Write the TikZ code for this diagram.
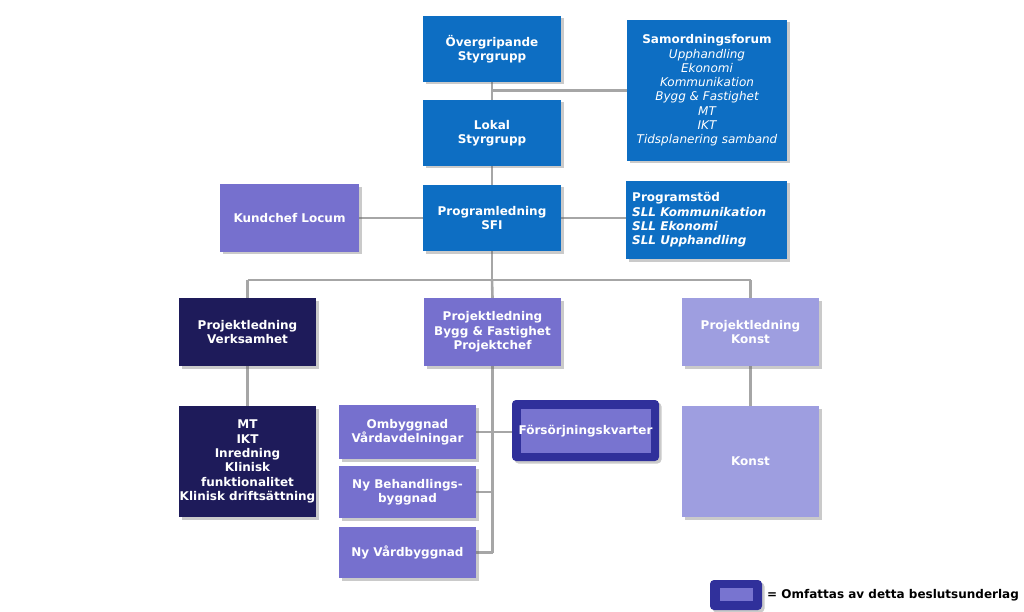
\documentclass[tikz,border=0pt]{standalone}
\usepackage{fontspec}
\setmainfont{DejaVu Sans}
\usetikzlibrary{shadows}
\pgfdeclarelayer{bg}
\pgfsetlayers{bg,main}
\definecolor{cblue}{RGB}{13,110,195}
\definecolor{cviolet}{RGB}{118,112,206}
\definecolor{cnavy}{RGB}{30,27,90}
\definecolor{clight}{RGB}{158,158,224}
\definecolor{couter}{RGB}{48,48,155}
\definecolor{cinner}{RGB}{120,116,208}
\definecolor{cline}{RGB}{166,166,166}
\tikzset{
  box/.style={draw=none, text=white, align=center, inner sep=0pt,
    font=\fontsize{12}{14.3}\selectfont\bfseries,
    drop shadow={shadow xshift=2.5pt, shadow yshift=-2.5pt, opacity=0.35, fill=black!60}},
  conn/.style={draw=cline, line width=2.6pt},
}
\begin{document}
\begin{tikzpicture}[x=1pt,y=-1pt]
\useasboundingbox (0,0) rectangle (1024,612);
% top
\node[box, fill=cblue, minimum width=138pt, minimum height=66pt] (ov) at (492,49) {Övergripande\\Styrgrupp};
\node[box, fill=cblue, minimum width=160pt, minimum height=141pt] (sam) at (707,90.5)
  {Samordningsforum\\\mdseries\itshape Upphandling\\\mdseries\itshape Ekonomi\\\mdseries\itshape Kommunikation\\\mdseries\itshape Bygg \& Fastighet\\\mdseries\itshape MT\\\mdseries\itshape IKT\\\mdseries\itshape Tidsplanering samband};
\node[box, fill=cblue, minimum width=138pt, minimum height=66pt] (lok) at (492,133) {Lokal\\Styrgrupp};
\node[box, fill=cviolet, minimum width=139pt, minimum height=67pt] (kun) at (289.5,218) {Kundchef Locum};
\node[box, fill=cblue, minimum width=138pt, minimum height=66pt] (prog) at (492,218) {Programledning\\SFI};
\node[box, fill=cblue, minimum width=161pt, minimum height=78pt] (ps) at (706.5,220) {};
\node[anchor=west, text=white, align=left, inner sep=0pt, font=\fontsize{12}{14.3}\selectfont\bfseries] (pst) at (632,220)
  {Programstöd\\\itshape SLL Kommunikation\\\itshape SLL Ekonomi\\\itshape SLL Upphandling};
% middle row
\node[box, fill=cnavy, minimum width=137pt, minimum height=68pt] (pv) at (247.5,332) {Projektledning\\Verksamhet};
\node[box, fill=cviolet, minimum width=137pt, minimum height=68pt] (pb) at (492.5,332) {Projektledning\\Bygg \& Fastighet\\Projektchef};
\node[box, fill=clight, minimum width=137pt, minimum height=68pt] (pk) at (750.5,332) {Projektledning\\Konst};
% bottom
\node[box, fill=cnavy, minimum width=137pt, minimum height=111pt] (mt) at (247.5,461.5) {MT\\IKT\\Inredning\\Klinisk\\funktionalitet\\Klinisk driftsättning};
\node[box, fill=cviolet, minimum width=137pt, minimum height=54pt] (om) at (407.5,432) {Ombyggnad\\Vårdavdelningar};
\node[box, fill=couter, rounded corners=4pt, minimum width=147pt, minimum height=61pt] (fo) at (585.5,430.5) {};
\node[fill=cinner, minimum width=130pt, minimum height=44pt, inner sep=0pt] (foi) at (585.5,430.5) {};
\node[text=white, inner sep=0pt, font=\fontsize{12}{14.3}\selectfont\bfseries] (fot) at (585.5,431.5) {Försörjningskvarter};
\node[box, fill=cviolet, minimum width=137pt, minimum height=52pt] (nb) at (407.5,492) {Ny Behandlings-\\byggnad};
\node[box, fill=cviolet, minimum width=137pt, minimum height=51pt] (nv) at (407.5,552.5) {Ny Vårdbyggnad};
\node[box, fill=clight, minimum width=137pt, minimum height=111pt] (ko) at (750.5,461.5) {Konst};
% legend
\node[box, fill=couter, rounded corners=4pt, minimum width=52pt, minimum height=30pt] (lg) at (736,595) {};
\node[fill=cinner, minimum width=33pt, minimum height=13pt, inner sep=0pt] (lgi) at (736,594.5) {};
\node[anchor=west, inner sep=0pt, font=\fontsize{12}{14.3}\selectfont\bfseries] (lgt) at (767,595) {= Omfattas av detta beslutsunderlag};
% connectors
\coordinate (bus) at (492,280);
\begin{pgfonlayer}{bg}
\draw[conn] (ov.south) -- (lok.north);
\draw[conn] (sam.west) -- (sam.west -| ov.south);
\draw[conn] (lok.south) -- (prog.north);
\draw[conn] (kun.east) -- (prog.west);
\draw[conn] (prog.east) -- (prog.east -| ps.west);
\draw[conn] (prog.south) -- (bus);
\draw[conn] (pv.north |- bus) -- (pk.north |- bus);
\draw[conn] (pv.north |- bus) -- (pv.north);
\draw[conn] (bus) -- (pb.north);
\draw[conn] (pk.north |- bus) -- (pk.north);
\draw[conn] (pv.south) -- (mt.north);
\draw[conn] (pk.south) -- (ko.north);
\draw[conn] (pb.south) -- (pb.south |- nv.east);
\draw[conn] (om.east) -- (om.east -| fo.west);
\draw[conn] (nb.east) -- (nb.east -| pb.south);
\draw[conn] (nv.east) -- (nv.east -| pb.south);
\end{pgfonlayer}
\end{tikzpicture}
\end{document}
